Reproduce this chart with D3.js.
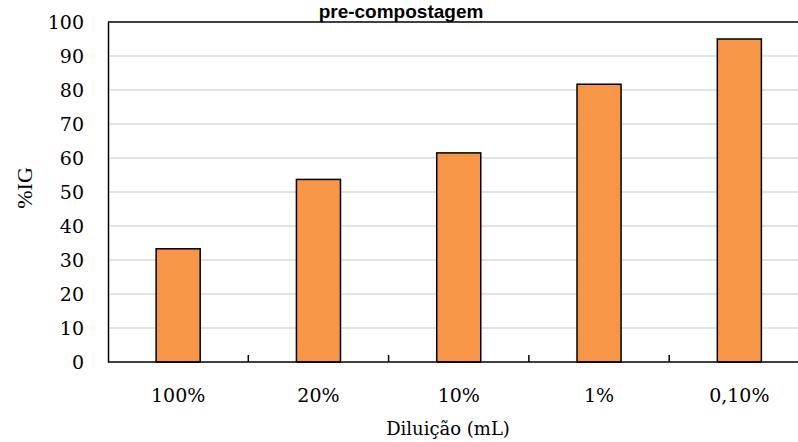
<!DOCTYPE html>
<html>
<head>
<meta charset="utf-8">
<script src="https://cdn.jsdelivr.net/npm/d3@7"></script>
<style>
  body { margin: 0; background: #fff; }
  svg { display: block; }
</style>
</head>
<body>
<div id="chart"></div>
<script>
const width = 798
const height = 442
const margin = { top: 22, right: -11.5, bottom: 80, left: 108 }

// dados
const categories = ['100%', '20%', '10%', '1%', '0,10%']
const igValues = [33.3, 53.7, 61.5, 81.7, 95.0]
const yTicks = [0, 10, 20, 30, 40, 50, 60, 70, 80, 90, 100]

const barColor = '#F79646'
const serif = "'DejaVu Serif', serif"

const svg = d3.select('#chart').append('svg').attr('width', width).attr('height', height)

const x = d3.scaleBand()
  .domain(categories)
  .range([margin.left, width - margin.right])
  .paddingInner(0.686)
  .paddingOuter(0.343)
const y = d3.scaleLinear().domain([0, 100]).range([height - margin.bottom, margin.top])

// linhas de grade
svg.append('g').attr('class', 'grid')
  .selectAll('line')
  .data(yTicks.filter(d => d > 0 && d < 100))
  .join('line')
  .attr('x1', margin.left)
  .attr('x2', width - margin.right)
  .attr('y1', d => y(d))
  .attr('y2', d => y(d))
  .attr('stroke', '#d9d9d9')
  .attr('stroke-width', 1.5)

// borda superior
svg.append('line')
  .attr('x1', margin.left).attr('x2', width)
  .attr('y1', y(100)).attr('y2', y(100))
  .attr('stroke', '#000').attr('stroke-width', 1.5)

// barras
svg.append('g').attr('class', 'bars')
  .selectAll('rect')
  .data(categories.map((c, i) => ({ cat: c, value: igValues[i] })))
  .join('rect')
  .attr('x', d => x(d.cat))
  .attr('width', x.bandwidth())
  .attr('y', d => y(d.value))
  .attr('height', d => y(0) - y(d.value))
  .attr('fill', barColor)
  .attr('stroke', '#000')
  .attr('stroke-width', 1.5)

// eixo y
const yAxis = d3.axisLeft(y).tickValues(yTicks).tickSize(0).tickPadding(24)
const yAxisGroup = svg.append('g').attr('transform', `translate(${margin.left}, 0)`).call(yAxis)
yAxisGroup.select('.domain').attr('stroke', '#000').attr('stroke-width', 1.5)
yAxisGroup.selectAll('.tick text')
  .attr('font-family', serif)
  .attr('font-size', 19)
  .attr('fill', '#000')

// eixo x: marcas entre as categorias
const gap = x.step() - x.bandwidth()
const xAxisGroup = svg.append('g').attr('transform', `translate(0, ${y(0)})`)
xAxisGroup.append('line')
  .attr('x1', margin.left).attr('x2', width)
  .attr('stroke', '#000').attr('stroke-width', 1.5)
xAxisGroup.selectAll('.xtick')
  .data(categories.slice(1))
  .join('line')
  .attr('class', 'xtick')
  .attr('x1', d => x(d) - gap / 2)
  .attr('x2', d => x(d) - gap / 2)
  .attr('y1', 0).attr('y2', -7)
  .attr('stroke', '#000').attr('stroke-width', 1.5)
xAxisGroup.selectAll('.xlabel')
  .data(categories)
  .join('text')
  .attr('class', 'xlabel')
  .attr('x', d => x(d) + x.bandwidth() / 2)
  .attr('y', 40)
  .attr('text-anchor', 'middle')
  .attr('font-family', serif)
  .attr('font-size', 19)
  .text(d => d)

// títulos
svg.append('text')
  .attr('x', 401).attr('y', 18)
  .attr('text-anchor', 'middle')
  .attr('font-family', "'Liberation Sans', Arial, sans-serif")
  .attr('font-weight', 'bold')
  .attr('font-size', 19)
  .text('pre-compostagem')

svg.append('text')
  .attr('transform', `translate(32, ${(y(0) + y(100)) / 2 - 4}) rotate(-90)`)
  .attr('text-anchor', 'middle')
  .attr('font-family', "'Liberation Serif', 'Times New Roman', serif")
  .attr('font-size', 22)
  .text('%IG')

svg.append('text')
  .attr('x', 448).attr('y', 435)
  .attr('text-anchor', 'middle')
  .attr('font-family', serif)
  .attr('font-size', 18)
  .text('Diluição (mL)')
</script>
</body>
</html>
